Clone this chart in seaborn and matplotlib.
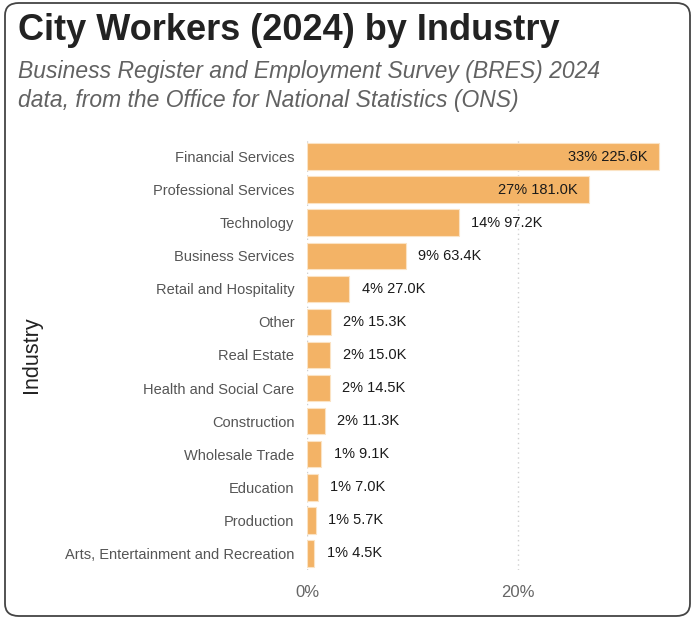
import matplotlib
matplotlib.use("Agg")
import matplotlib.pyplot as plt
from matplotlib.patches import FancyBboxPatch
from matplotlib.ticker import PercentFormatter
import pandas as pd
import seaborn as sns

industries = [
    "Financial Services", "Professional Services", "Technology",
    "Business Services", "Retail and Hospitality", "Other", "Real Estate",
    "Health and Social Care", "Construction", "Wholesale Trade",
    "Education", "Production", "Arts, Entertainment and Recreation",
]
workers_k = [225.6, 181.0, 97.2, 63.4, 27.0, 15.3, 15.0, 14.5, 11.3, 9.1, 7.0, 5.7, 4.5]

df = pd.DataFrame({"Industry": industries, "Workers": workers_k})
df["Share"] = df["Workers"] / df["Workers"].sum()

sns.set_theme(style="white")
plt.rcParams["font.family"] = ["Liberation Sans", "DejaVu Sans"]

fig = plt.figure(figsize=(6.94, 6.19), dpi=100)
ax = fig.add_axes([307 / 694, 1 - 570 / 619, (672 - 307) / 694, (570 - 140) / 619])

bar_color = "#F3B366"
sns.barplot(data=df, y="Industry", x="Share", ax=ax, color=bar_color,
            saturation=1, width=0.8, edgecolor="#FBE3C4", linewidth=0.8)

ax.set_xlim(0, 0.346)
ax.set_xticks([0, 0.2])
ax.xaxis.set_major_formatter(PercentFormatter(1.0, decimals=0))
ax.grid(axis="x", color="#D0D0D0", linestyle=(0, (1, 2.5)), linewidth=1)
ax.set_axisbelow(True)
for s in ax.spines.values():
    s.set_visible(False)
ax.tick_params(axis="x", labelsize=12, colors="#666666", length=0, pad=11)
ax.tick_params(axis="y", labelsize=10.5, colors="#555555", length=0, pad=9)
ax.set_xlabel("")
ax.set_ylabel("Industry", fontsize=15.5, color="#222222")
ax.yaxis.set_label_coords(-0.725, 0.5)

# value labels: inside the long bars, outside the rest
for i, (share, w) in enumerate(zip(df["Share"], df["Workers"])):
    text = f"{share * 100:.0f}% {w:.1f}K"
    if share > 0.2:
        ax.annotate(text, (share, i), xytext=(-8, 0), textcoords="offset points",
                    ha="right", va="center", fontsize=10.5, color="#1a1a1a")
    else:
        ax.annotate(text, (share, i), xytext=(9, 0), textcoords="offset points",
                    ha="left", va="center", fontsize=10.5, color="#1a1a1a")

fig.text(18 / 694, 1 - 30 / 619, "City Workers (2024) by Industry",
         fontsize=26, fontweight="bold", color="#222222", va="center", ha="left")
fig.text(18 / 694, 1 - 86 / 619,
         "Business Register and Employment Survey (BRES) 2024\n"
         "data, from the Office for National Statistics (ONS)",
         fontsize=16.5, fontstyle="italic", color="#626262", va="center", ha="left",
         linespacing=1.32)

border = FancyBboxPatch((5 / 694, 3 / 619), 685 / 694, 613 / 619,
                        boxstyle="round,pad=0,rounding_size=0.02",
                        transform=fig.transFigure, fill=False,
                        edgecolor="#444444", linewidth=1.3)
fig.patches.append(border)

fig.savefig("out.png", dpi=100)
